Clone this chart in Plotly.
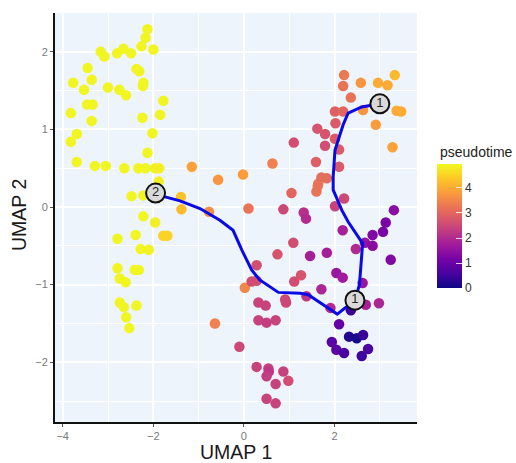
import plotly.graph_objects as go

# Cell embedding (UMAP 1, UMAP 2) and pseudotime
umap1 = [
    -2.13, -2.17, -2.26, -2.00, -2.66, -2.80, -2.49, -3.16, -3.08, -3.45, -2.37, -2.31, -3.77, -3.36, -2.22, -2.23,
    -3.53, -3.00, -2.75, -2.60, -1.78, -3.46, -3.34, -3.82, -1.85, -3.36, -2.24, -2.02, -3.69, -3.82, -2.13, -3.69,
    -3.29, -3.05, -2.64, -2.33, -2.17, -1.96, -1.87, -1.88, -2.48, -2.22, -2.22, -1.96, -2.79, -2.39, -2.28, -2.10,
    -2.79, -2.41, -2.32, -2.74, -2.61, -2.74, -2.65, -2.37, -2.60, -2.53,
    -1.78, -1.69, -1.39, -1.38,
    -1.15, -0.57, -0.02, -0.77, 0.10, -0.64, 0.02, -0.10, 0.28, 0.17, 0.28, 0.28, 0.32, 0.48, 0.32, 0.50, 0.70,
    1.09, 0.74, 1.46, 1.83, 1.11, 1.26, 1.71, 2.04, 0.91, 0.93, 1.38, 1.94, 2.04, 0.54, 0.55, 0.50, 0.87, 0.98,
    0.70, 0.50, 0.70, 2.18, 1.91, 2.10, 2.36, 2.62, 2.69, 2.98, 2.32, 2.49, 2.63, 2.21, 2.60, 2.74, 2.47, 2.18,
    2.67, 2.84, 2.84, 3.07, 3.13, 3.24, 1.60, 1.64, 2.21, 2.01, 1.32, 1.37, 3.31,
    2.21, 2.19, 2.58, 2.96, 3.17, 3.33, 2.36, 2.63, 3.37, 3.47, 2.91, 3.28, 2.01, 2.19, 1.62, 1.79, 2.02, 2.01,
    1.10, 1.79, 2.10, 1.59, 2.10, 1.71, 1.83, 1.63, 0.63, 1.05, 0.87,
]
umap2 = [
    2.29, 2.18, 2.07, 2.03, 2.04, 1.98, 1.98, 2.00, 1.94, 1.79, 1.78, 1.75, 1.60, 1.64, 1.60, 1.56,
    1.51, 1.54, 1.51, 1.44, 1.37, 1.32, 1.32, 1.21, 1.19, 1.11, 1.15, 0.95, 0.94, 0.84, 0.70, 0.58,
    0.53, 0.53, 0.50, 0.50, 0.50, 0.50, 0.50, 0.33, 0.14, 0.15, -0.12, -0.20, -0.41, -0.36, -0.54, -0.55,
    -0.79, -0.81, -0.81, -0.92, -0.97, -1.23, -1.29, -1.27, -1.42, -1.56,
    -0.37, -0.37, 0.13, -0.03,
    0.52, 0.35, 0.42, -0.06, -0.02, -1.50, -1.04, -1.80, -2.06, -0.96, -0.95, -0.75, -1.23, -1.27, -1.46, -1.49, -1.46,
    -0.46, -0.61, -0.63, -0.59, -0.96, -0.88, -1.06, -0.85, -1.19, -1.23, -1.15, -1.74, -1.84, -2.08, -2.12, -2.18, -2.12, -2.24,
    -2.28, -2.47, -2.53, -0.91, -1.30, -1.51, -1.33, -0.98, -1.26, -1.24, -1.67, -1.69, -1.65, -1.88, -1.92, -1.83, -0.54, -0.30,
    -0.46, -0.36, -0.50, -0.32, -0.20, -0.68, 0.20, 0.30, 0.11, 0.01, -0.07, -0.15, -0.04,
    1.70, 1.56, 1.60, 1.60, 1.57, 1.70, 1.41, 1.25, 1.24, 1.23, 1.06, 0.77, 1.23, 1.23, 1.01, 0.94, 1.08, 0.88,
    0.83, 0.79, 0.74, 0.58, 0.52, 0.38, 0.37, 0.27, 0.56, 0.18, -0.03,
]
pseudotime = [
    4.90, 4.90, 4.90, 4.90, 4.90, 4.90, 4.90, 4.90, 4.90, 4.90, 4.90, 4.90, 4.90, 4.90, 4.90, 4.90,
    4.90, 4.90, 4.90, 4.90, 4.90, 4.90, 4.90, 4.90, 4.90, 4.90, 4.90, 4.90, 4.90, 4.90, 4.90, 4.90,
    4.90, 4.90, 4.90, 4.90, 4.90, 4.85, 4.85, 4.85, 4.90, 4.90, 4.90, 4.85, 4.90, 4.90, 4.90, 4.88,
    4.90, 4.90, 4.90, 4.90, 4.90, 4.90, 4.90, 4.90, 4.90, 4.90,
    4.50, 4.50, 4.30, 4.20,
    3.90, 3.70, 3.80, 3.60, 3.20, 3.40, 3.50, 2.50, 2.40, 2.60, 2.60, 2.60, 2.40, 2.40, 2.40, 2.30, 2.40,
    2.60, 2.70, 1.80, 1.80, 2.60, 2.70, 1.90, 1.60, 2.50, 2.50, 2.20, 0.80, 0.80, 2.30, 2.20, 2.30, 2.40, 2.60,
    2.40, 2.40, 2.40, 1.70, 2.00, 0.90, 0.40, 1.60, 1.80, 1.90, 0.20, 0.10, 0.40, 0.60, 0.50, 0.60, 2.00, 1.80,
    1.50, 1.30, 1.40, 1.20, 1.20, 1.30, 3.20, 3.30, 2.50, 2.40, 2.10, 2.00, 1.40,
    3.30, 3.20, 3.70, 4.00, 4.00, 4.20, 3.20, 3.70, 4.00, 4.00, 3.80, 3.90, 2.90, 3.00, 2.70, 2.70, 2.80, 2.80,
    2.60, 2.60, 2.80, 2.90, 2.80, 3.10, 3.10, 3.20, 3.40, 3.00, 2.50,
]

# Principal graph (trajectory) path
traj_x = [-1.95, -1.74, -1.41, -0.97, -0.53, -0.24, -0.05, 0.17, 0.35, 0.76, 1.24, 1.42, 1.75, 2.06,
          2.45, 2.55, 2.62, 2.30, 2.16, 1.97, 1.97, 2.01, 2.08, 2.19, 2.30, 2.60, 3.00]
traj_y = [0.18, 0.13, 0.08, -0.02, -0.17, -0.30, -0.55, -0.81, -0.94, -1.10, -1.11, -1.13, -1.26, -1.38,
          -1.20, -1.00, -0.47, -0.19, -0.04, 0.22, 0.39, 0.73, 0.86, 1.06, 1.21, 1.29, 1.33]

# Trajectory nodes (root / branch labels)
node_x = [-1.95, 2.45, 3.00]
node_y = [0.18, -1.20, 1.33]
node_labels = ["2", "1", "1"]

fig = go.Figure()

fig.add_trace(go.Scatter(
    x=umap1, y=umap2, mode="markers",
    marker=dict(size=10.5, color=pseudotime, colorscale="Plasma", cmin=0, cmax=4.95,
                line=dict(width=0),
                colorbar=dict(
                    xref="container", yref="container",
                    x=437 / 516, xanchor="left",
                    y=(463 - 256) / 463, yanchor="middle",
                    lenmode="pixels", len=124, thickness=25,
                    tickvals=[0, 1, 2, 3, 4],
                    ticks="inside", ticklen=6, tickcolor="rgba(255,255,255,0.8)",
                    tickfont=dict(size=12, color="#333333", family="Liberation Sans"),
                    outlinewidth=0, xpad=0, ypad=0,
                )),
    showlegend=False, hoverinfo="skip",
))

fig.add_trace(go.Scatter(
    x=traj_x, y=traj_y, mode="lines",
    line=dict(color="#0a0ae6", width=3),
    showlegend=False, hoverinfo="skip",
))

fig.add_trace(go.Scatter(
    x=node_x, y=node_y, mode="markers+text",
    text=node_labels, textposition="middle center",
    textfont=dict(size=13, color="#222222", family="Liberation Sans"),
    marker=dict(size=19, color="#d9d9d9", line=dict(color="#111111", width=2)),
    showlegend=False, hoverinfo="skip",
))

axis_common = dict(
    showline=True, linecolor="#111111", linewidth=2,
    ticks="outside", ticklen=3, tickcolor="#555555", tickwidth=1,
    tickfont=dict(size=11, color="#7a7a7a", family="Liberation Sans"),
    gridcolor="white", gridwidth=1.6,
    zeroline=False, mirror=False, automargin=False,
)

fig.update_xaxes(
    range=[-4.17, 3.82], dtick=2, tick0=0,
    minor=dict(dtick=1, showgrid=True, gridcolor="white", gridwidth=1.2),
    **axis_common,
)
fig.update_yaxes(
    range=[-2.77, 2.50], dtick=1, tick0=0,
    minor=dict(dtick=0.5, showgrid=True, gridcolor="white", gridwidth=1.2),
    **axis_common,
)

title_font = dict(size=19.5, color="#1a1a1a", family="Liberation Sans")
fig.add_annotation(
    text="UMAP 1", xref="paper", yref="paper",
    x=(236 - 55) / (417 - 55), y=-(452 - 422) / (422 - 13),
    xanchor="center", yanchor="middle", showarrow=False, font=title_font,
)
fig.add_annotation(
    text="UMAP 2", xref="paper", yref="paper",
    x=-(55 - 19) / (417 - 55), y=(422 - 215) / (422 - 13),
    xanchor="center", yanchor="middle", textangle=-90, showarrow=False, font=title_font,
)
fig.add_annotation(
    text="pseudotime", xref="paper", yref="paper",
    x=(438 - 55) / (417 - 55), y=(422 - 152) / (422 - 13),
    xanchor="left", yanchor="middle", showarrow=False,
    font=dict(size=14, color="#222222", family="Liberation Sans"),
)

fig.update_layout(
    width=516, height=463,
    margin=dict(l=55, r=99, t=13, b=41),
    plot_bgcolor="#edf4fb", paper_bgcolor="white",
    font=dict(family="Liberation Sans"),
)

fig.write_html("out.html")
